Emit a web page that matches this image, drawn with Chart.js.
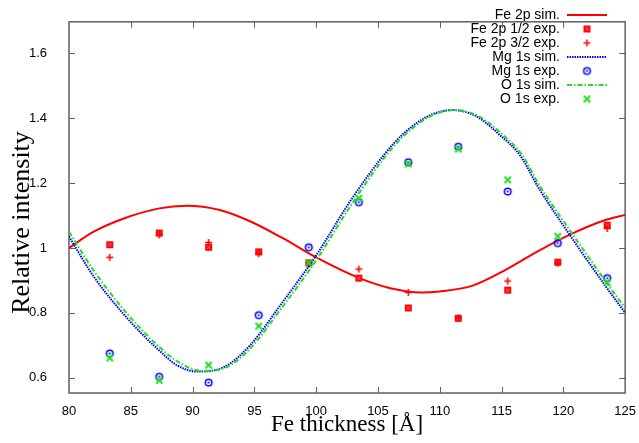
<!DOCTYPE html>
<html>
<head>
<meta charset="utf-8">
<script src="https://cdn.jsdelivr.net/npm/chart.js@4"></script>
<style>
html,body{margin:0;padding:0;background:#fff;}
canvas{display:block;}
</style>
</head>
<body>
<canvas id="c" width="639" height="443" style="width:639px;height:443px"></canvas>
<script>
// ---- tick labels ----
const xTicks = [80, 85, 90, 95, 100, 105, 110, 115, 120, 125];
const xTickLabels = ['80', '85', '90', '95', '100', '105', '110', '115', '120', '125'];
const yTicks = [0.6, 0.8, 1.0, 1.2, 1.4, 1.6];
const yTickLabels = ['0.6', '0.8', '1', '1.2', '1.4', '1.6'];

// ---- simulated curves ----
const feSimX = [80, 82, 84.6, 87.3, 89.5, 92.2, 94.6, 97.3, 100, 103.5, 106, 108.5, 110, 112.6, 115.3, 118, 120.7, 123.4, 125];
const feSimY = [1.000, 1.050, 1.093, 1.122, 1.130, 1.117, 1.083, 1.030, 0.971, 0.907, 0.876, 0.863, 0.866, 0.883, 0.932, 0.991, 1.044, 1.086, 1.102];

const mgSimX = [80, 82, 84.65, 87.3, 88.8, 90.4, 92.6, 94.6, 97.3, 100, 102.7, 105.4, 107, 109, 111, 113, 114.8, 116.5, 118, 120.7, 123.4, 125];
const mgSimY = [1.035, 0.912, 0.786, 0.684, 0.637, 0.619, 0.634, 0.698, 0.834, 0.977, 1.141, 1.283, 1.350, 1.405, 1.425, 1.405, 1.350, 1.285, 1.185, 1.030, 0.883, 0.800];

const oSimX = [80, 82, 84.65, 87.3, 88.8, 90.7, 92.6, 94.6, 97.3, 100, 102.7, 105.4, 107, 109.2, 111.2, 113.2, 115, 116.7, 118, 120.7, 123.4, 125];
const oSimY = [1.050, 0.930, 0.800, 0.695, 0.650, 0.621, 0.630, 0.688, 0.820, 0.962, 1.125, 1.272, 1.342, 1.405, 1.425, 1.405, 1.352, 1.285, 1.197, 1.045, 0.898, 0.815];

// ---- experimental points ----
const expX = [83.3, 87.3, 91.3, 95.35, 99.4, 103.45, 107.45, 111.5, 115.5, 119.55, 123.55];
const fe12Y = [1.010, 1.046, 1.002, 0.988, 0.954, 0.907, 0.815, 0.783, 0.870, 0.956, 1.070];
const fe32Y = [0.971, 1.040, 1.017, 0.982, 0.950, 0.935, 0.863, 0.785, 0.898, 0.953, 1.060];
const mgExpY = [0.675, 0.603, 0.585, 0.793, 1.002, 1.141, 1.264, 1.312, 1.174, 1.015, 0.907];
const oExpY = [0.661, 0.592, 0.639, 0.759, 0.954, 1.153, 1.259, 1.305, 1.210, 1.036, 0.893];

const RED = '#ff0000', BLUE = '#0000ff', GREEN = '#22dd22';

function pts(xs, ys) { return xs.map((x, i) => ({x: x, y: ys[i]})); }

function makeMarker(kind, color) {
  const s = 11, m = 5.5;
  const c = document.createElement('canvas');
  c.width = s; c.height = s;
  const g = c.getContext('2d');
  g.strokeStyle = color; g.fillStyle = color;
  if (kind === 'boxx') {
    g.fillRect(m - 3.5, m - 3.5, 7, 7);
    g.strokeStyle = 'rgba(255,200,200,0.55)';
    g.lineWidth = 1;
    g.beginPath();
    g.moveTo(m - 2, m - 2); g.lineTo(m + 2, m + 2);
    g.moveTo(m + 2, m - 2); g.lineTo(m - 2, m + 2);
    g.stroke();
  } else if (kind === 'plus') {
    g.lineWidth = 1.6;
    g.beginPath();
    g.moveTo(m - 3.5, m); g.lineTo(m + 3.5, m);
    g.moveTo(m, m - 3.5); g.lineTo(m, m + 3.5);
    g.stroke();
  } else if (kind === 'ring') {
    g.lineWidth = 1.5;
    g.beginPath(); g.arc(m, m, 3.3, 0, Math.PI * 2); g.stroke();
    g.beginPath(); g.arc(m, m, 1.1, 0, Math.PI * 2); g.fill();
  } else if (kind === 'x') {
    g.lineWidth = 2;
    g.beginPath();
    g.moveTo(m - 3.2, m - 3.2); g.lineTo(m + 3.2, m + 3.2);
    g.moveTo(m + 3.2, m - 3.2); g.lineTo(m - 3.2, m + 3.2);
    g.stroke();
  }
  return c;
}

const framePlugin = {
  id: 'frame',
  beforeDatasetsDraw(chart) {
    const {ctx, chartArea: a, scales: {x, y}} = chart;
    ctx.save();
    ctx.strokeStyle = '#606060';
    ctx.lineWidth = 1;
    ctx.beginPath();
    x.ticks.forEach(t => {
      const p = Math.round(x.getPixelForValue(t.value)) + 0.5;
      if (p < a.left + 2 || p > a.right - 2) return;
      ctx.moveTo(p, a.bottom); ctx.lineTo(p, a.bottom - 6);
      ctx.moveTo(p, a.top); ctx.lineTo(p, a.top + 6);
    });
    y.ticks.forEach(t => {
      const p = Math.round(y.getPixelForValue(t.value)) + 0.5;
      if (p < a.top + 2 || p > a.bottom - 2) return;
      ctx.moveTo(a.left, p); ctx.lineTo(a.left + 6, p);
      ctx.moveTo(a.right, p); ctx.lineTo(a.right - 6, p);
    });
    ctx.stroke();
    ctx.lineWidth = 1.5;
    ctx.strokeRect(a.left, a.top, a.right - a.left, a.bottom - a.top);
    ctx.restore();
  }
};

const legendPlace = {
  id: 'legendPlace',
  afterLayout(chart) {
    const l = chart.legend;
    if (!l) return;
    const w = l.width, h = l.height;
    l.right = 607; l.left = l.right - w;
    l.top = 8; l.bottom = l.top + h;
  }
};

const SERIF = "'Liberation Serif', 'Times New Roman', 'DejaVu Serif', serif";
const SANS = "'Liberation Sans', Arial, Helvetica, sans-serif";

const lineDs = (label, xs, ys, color, dash) => ({
  label, data: pts(xs, ys), showLine: true, borderColor: color, backgroundColor: color,
  borderWidth: 2, borderDash: dash, pointRadius: 0, pointStyle: 'line',
  cubicInterpolationMode: 'monotone', fill: false
});
const ptDs = (label, ys, style, color) => ({
  label, data: pts(expX, ys), showLine: false, borderColor: color, backgroundColor: color,
  pointStyle: style, pointRadius: 4, borderWidth: 1
});

const datasets = [
  lineDs('Fe 2p sim.', feSimX, feSimY, RED, []),
  ptDs('Fe 2p 1/2 exp.', fe12Y, makeMarker('boxx', RED), RED),
  ptDs('Fe 2p 3/2 exp.', fe32Y, makeMarker('plus', RED), RED),
  lineDs('Mg 1s sim.', mgSimX, mgSimY, BLUE, [1.5, 1]),
  ptDs('Mg 1s exp.', mgExpY, makeMarker('ring', BLUE), BLUE),
  lineDs('O 1s sim.', oSimX, oSimY, GREEN, [5, 2, 1.5, 2]),
  ptDs('O 1s exp.', oExpY, makeMarker('x', GREEN), GREEN)
];
datasets.forEach((d, i) => { d.order = datasets.length - 1 - i; });

new Chart(document.getElementById('c'), {
  type: 'scatter',
  data: {datasets},
  plugins: [framePlugin, legendPlace],
  options: {
    responsive: false,
    animation: false,
    devicePixelRatio: 1,
    events: [],
    layout: {padding: {left: 0, right: 13, top: 2, bottom: 0}},
    scales: {
      x: {
        type: 'linear', min: 80, max: 125,
        afterBuildTicks: s => { s.ticks = xTicks.map(v => ({value: v})); },
        afterFit: s => { s.height = 50; },
        grid: {display: false}, border: {display: false},
        ticks: {
          autoSkip: false, maxRotation: 0, padding: 3, color: '#000',
          font: {family: SANS, size: 13},
          callback: (v, i) => xTickLabels[i]
        },
        title: {
          display: true, text: 'Fe thickness [Å]', color: '#000',
          font: {family: SERIF, size: 23, weight: 'normal'},
          padding: {top: 0, bottom: 4}
        }
      },
      y: {
        type: 'linear', min: 0.553, max: 1.697,
        afterBuildTicks: s => { s.ticks = yTicks.map(v => ({value: v})); },
        afterFit: s => { s.width = 45; },
        grid: {display: false}, border: {display: false},
        ticks: {
          padding: 14, color: '#000',
          font: {family: SANS, size: 13},
          callback: (v, i) => yTickLabels[i]
        }
      }
    },
    plugins: {
      tooltip: {enabled: false},
      title: {
        display: true, text: 'Relative intensity', position: 'left', color: '#000',
        font: {family: SERIF, size: 26, weight: 'normal', lineHeight: '4px'},
        padding: {top: 20, bottom: 0}
      },
      legend: {
        display: true, position: 'chartArea', align: 'start', rtl: true,
        labels: {
          usePointStyle: true, pointStyleWidth: 40, boxHeight: 6, padding: 0,
          color: '#000', font: {family: SANS, size: 14},
          sort: (a, b) => a.datasetIndex - b.datasetIndex,
          generateLabels(chart) {
            const items = Chart.defaults.plugins.legend.labels.generateLabels(chart);
            items.forEach(it => {
              const ds = chart.data.datasets[it.datasetIndex];
              it.lineDash = ds.borderDash || [];
              it.lineWidth = ds.showLine ? ds.borderWidth : 1;
              it.strokeStyle = ds.borderColor;
              it.fillStyle = ds.borderColor;
              it.pointStyle = ds.pointStyle;
            });
            return items;
          }
        }
      }
    }
  }
});
</script>
</body>
</html>
